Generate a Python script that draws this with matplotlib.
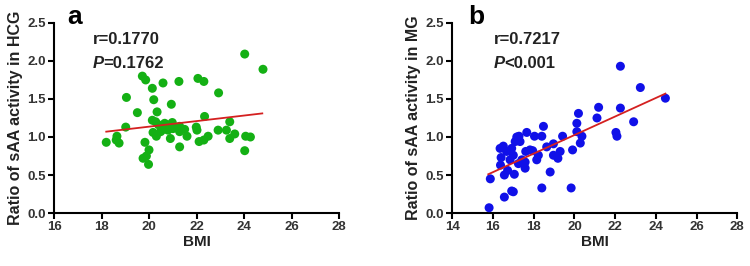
"""
BMI vs ratio of sAA activity, HCG and MG groups, two panel scatter
"""

import matplotlib
matplotlib.use('Agg')
import matplotlib.pyplot as plt
import numpy as np

# panel a: HCG
bmi_hcg = [18.20, 18.65, 18.62, 18.74, 19.05, 19.02, 19.51, 19.72, 19.86, 19.83,
           19.75, 19.89, 20.00, 19.98, 20.14, 20.20, 20.14, 20.17, 20.34, 20.28,
           20.31, 20.59, 20.52, 20.49, 20.66, 20.73, 20.80, 20.87, 20.94, 20.90,
           20.98, 21.01, 21.26, 21.29, 21.29, 21.29, 21.50, 21.60, 21.99, 22.02,
           22.06, 22.11, 22.31, 22.34, 22.31, 22.49, 22.93, 22.91, 23.26, 23.40,
           23.40, 23.61, 24.03, 24.07, 24.27, 24.03, 24.80, 20.60, 20.40]
ratio_hcg = [0.93, 1.01, 0.96, 0.92, 1.52, 1.13, 1.32, 1.80, 1.75, 0.93,
             0.72, 0.75, 0.83, 0.64, 1.64, 1.49, 1.22, 1.06, 1.33, 1.20,
             1.01, 1.71, 1.14, 1.07, 1.18, 1.11, 1.09, 1.16, 1.43, 0.98,
             1.19, 1.11, 1.73, 0.87, 1.14, 1.07, 1.10, 1.01, 1.13, 1.09,
             1.77, 0.94, 1.73, 1.27, 0.96, 1.01, 1.58, 1.09, 1.09, 1.20,
             0.98, 1.04, 2.09, 1.01, 1.00, 0.82, 1.89, 1.10, 1.16]
fit_x_hcg = [18.2, 24.77]
fit_y_hcg = [1.07, 1.31]

# panel b: MG
bmi_mg = [15.81, 15.87, 16.35, 16.40, 16.37, 16.51, 16.56, 16.56, 16.67, 16.72,
          16.84, 16.92, 17.00, 16.92, 17.00, 17.05, 17.09, 17.17, 17.28, 17.33,
          17.25, 17.42, 17.50, 17.58, 17.61, 17.66, 17.58, 17.82, 18.04, 18.15,
          18.23, 18.40, 18.40, 18.48, 18.64, 18.81, 18.97, 18.97, 19.19, 19.30,
          19.42, 19.84, 19.91, 20.12, 20.12, 20.20, 20.29, 20.37, 21.11, 21.19,
          22.04, 22.09, 22.26, 22.26, 22.91, 23.24, 24.47, 17.95]
ratio_mg = [0.07, 0.45, 0.85, 0.73, 0.63, 0.88, 0.21, 0.50, 0.81, 0.56,
            0.70, 0.29, 0.28, 0.85, 0.76, 0.51, 0.94, 1.00, 1.01, 0.94,
            0.65, 0.70, 0.65, 0.59, 0.81, 1.06, 0.67, 0.83, 1.01, 0.70,
            0.76, 1.01, 0.33, 1.14, 0.87, 0.54, 0.91, 0.76, 0.72, 0.81,
            1.01, 0.33, 0.83, 1.18, 1.07, 1.31, 0.92, 1.01, 1.25, 1.39,
            1.06, 1.01, 1.38, 1.93, 1.20, 1.65, 1.51, 0.82]
fit_x_mg = [15.77, 24.47]
fit_y_mg = [0.51, 1.57]

stats_hcg = ['r=0.1770', 'P', '=0.1762']
stats_mg = ['r=0.7217', 'P', '<0.001']

fnt = 'Liberation Sans'
tcol = '#222222'

fig = plt.figure(figsize=(7.5, 2.66), dpi=100)
ax1 = fig.add_axes([0.072, 0.199, 0.38, 0.715])
ax2 = fig.add_axes([0.603, 0.199, 0.38, 0.715])

panels = [
    (ax1, bmi_hcg, ratio_hcg, fit_x_hcg, fit_y_hcg, '#14b014', (16, 28), 'HCG', stats_hcg, 'a', 0.135, 0.045),
    (ax2, bmi_mg, ratio_mg, fit_x_mg, fit_y_mg, '#1010e8', (14, 28), 'MG', stats_mg, 'b', 0.145, 0.055),
]

for ax, x, y, fx, fy, col, xl, grp, st, letter, tx, lx in panels:
    ax.scatter(x, y, s=42, color=col, edgecolors='none', zorder=3)
    ax.plot(fx, fy, color='#d42020', lw=1.3, zorder=4)
    ax.set_xlim(xl)
    ax.set_ylim(0, 2.5)
    ax.set_xticks(np.arange(xl[0], xl[1] + 1, 2))
    ax.set_yticks(np.arange(0, 2.51, 0.5))
    ax.yaxis.set_major_formatter(matplotlib.ticker.FormatStrFormatter('%.1f'))
    for s in ['top', 'right']:
        ax.spines[s].set_visible(False)
    for s in ['left', 'bottom']:
        ax.spines[s].set_linewidth(1.5)
    ax.tick_params(direction='out', length=4, width=1.5, labelsize=9.5, colors='black', labelcolor='#333333', pad=2)
    for lab in ax.get_xticklabels() + ax.get_yticklabels():
        lab.set_fontweight('bold')
        lab.set_family(fnt)
    ax.set_xlabel('BMI', fontsize=11, fontweight='bold', family=fnt, color=tcol, labelpad=1)
    ax.set_ylabel('Ratio of sAA activity in %s' % grp, fontsize=11.5, fontweight='bold', family=fnt,
                  color=tcol, labelpad=3)
    ax.text(tx, 0.915, st[0], transform=ax.transAxes, fontsize=12, fontweight='bold', family=fnt,
            color=tcol, va='center')
    tp = ax.text(tx, 0.785, st[1], transform=ax.transAxes, fontsize=12, fontweight='bold', fontstyle='italic',
                 family=fnt, color=tcol, va='center')
    ax.annotate(st[2], xy=(1, 0.5), xycoords=tp, va='center', fontsize=12, fontweight='bold', family=fnt,
                color=tcol)
    ax.text(lx, 1.03, letter, transform=ax.transAxes, fontsize=19,
            fontweight='bold', family=fnt, va='center')

plt.savefig('out.png', dpi=100)
